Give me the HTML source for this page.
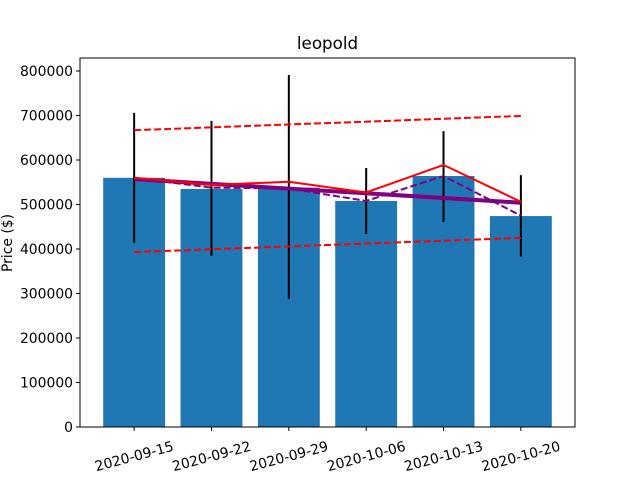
<!DOCTYPE html>
<html><head><meta charset="utf-8"><style>body{margin:0;background:#fff}svg{display:block;font-family:"DejaVu Sans","Liberation Sans",sans-serif}</style></head>
<body>
<svg id="chart" width="640" height="480" xmlns="http://www.w3.org/2000/svg">
<rect width="640" height="480" fill="#fff"/>
<text x="327.5" y="49" text-anchor="middle" font-size="16.7" fill="#000">leopold</text>
<text transform="translate(12,243) rotate(-90)" text-anchor="middle" font-size="13.9">Price ($)</text>
<g id="plot"></g>
</svg>
<script>
const categories=["2020-09-15","2020-09-22","2020-09-29","2020-10-06","2020-10-13","2020-10-20"];
const barValues=[560000,535000,538000,508000,564000,474000];
const errHigh=[706000,688000,791000,582000,665000,566000];
const errLow=[414000,385000,288000,434000,461000,383000];
const redLine=[560000,544000,551000,527000,589000,506000];
const purpleDashed=[560000,538000,536000,508000,564000,475000];
const trendEnds=[557000,504000];
const upperBandEnds=[667000,699000];
const lowerBandEnds=[393000,425000];
const yTicks=[0,100000,200000,300000,400000,500000,600000,700000,800000];

const L=80,R=575,T=58,B=427;
const xs=i=>L+(i+0.7)*(R-L)/6.4;
const ys=v=>B-v*0.000445;
const NS="http://www.w3.org/2000/svg";
const g=document.getElementById('plot');
function mk(t,a){const e=document.createElementNS(NS,t);for(const k in a)e.setAttribute(k,a[k]);g.appendChild(e);return e;}
const bw=0.8*(R-L)/6.4;
barValues.forEach((v,i)=>{const r=mk('rect',{x:xs(i)-bw/2,y:ys(v),width:bw,height:B-ys(v),fill:'#1f77b4'});

});
errHigh.forEach((h,i)=>{const l=mk('line',{x1:xs(i),x2:xs(i),y1:ys(h),y2:ys(errLow[i]),stroke:'#000','stroke-width':2});

});
function poly(arr,attrs,name){const p=mk('polyline',Object.assign({points:arr.map((v,i)=>xs(i)+','+ys(v)).join(' '),fill:'none'},attrs));

}
function seg(ends,attrs,name){const p=mk('line',Object.assign({x1:xs(0),y1:ys(ends[0]),x2:xs(5),y2:ys(ends[1])},attrs));

}
seg(upperBandEnds,{stroke:'#ff0000','stroke-width':2,'stroke-dasharray':'7,3'},'upper-band');
seg(lowerBandEnds,{stroke:'#ff0000','stroke-width':2,'stroke-dasharray':'7,3'},'lower-band');
poly(purpleDashed,{stroke:'#800080','stroke-width':2,'stroke-dasharray':'7,3'},'purple-dashed-line');
seg(trendEnds,{stroke:'#800080','stroke-width':4},'trend-line');
poly(redLine,{stroke:'#ff0000','stroke-width':2},'red-line');
mk('rect',{x:L,y:T,width:R-L,height:B-T,fill:'none',stroke:'#000','stroke-width':1});
yTicks.forEach(v=>{mk('line',{x1:L-4,x2:L,y1:ys(v),y2:ys(v),stroke:'#000'});
const t=mk('text',{x:L-7,y:ys(v)+5,'text-anchor':'end','font-size':13.9});t.textContent=v;

});
categories.forEach((c,i)=>{const x=xs(i);mk('line',{x1:x,x2:x,y1:B,y2:B+4,stroke:'#000'});
const t=mk('text',{x:x,y:461,'text-anchor':'middle','font-size':13.9,transform:'rotate(-15 '+x+' 456)'});t.textContent=c;

});
</script>
</body></html>
